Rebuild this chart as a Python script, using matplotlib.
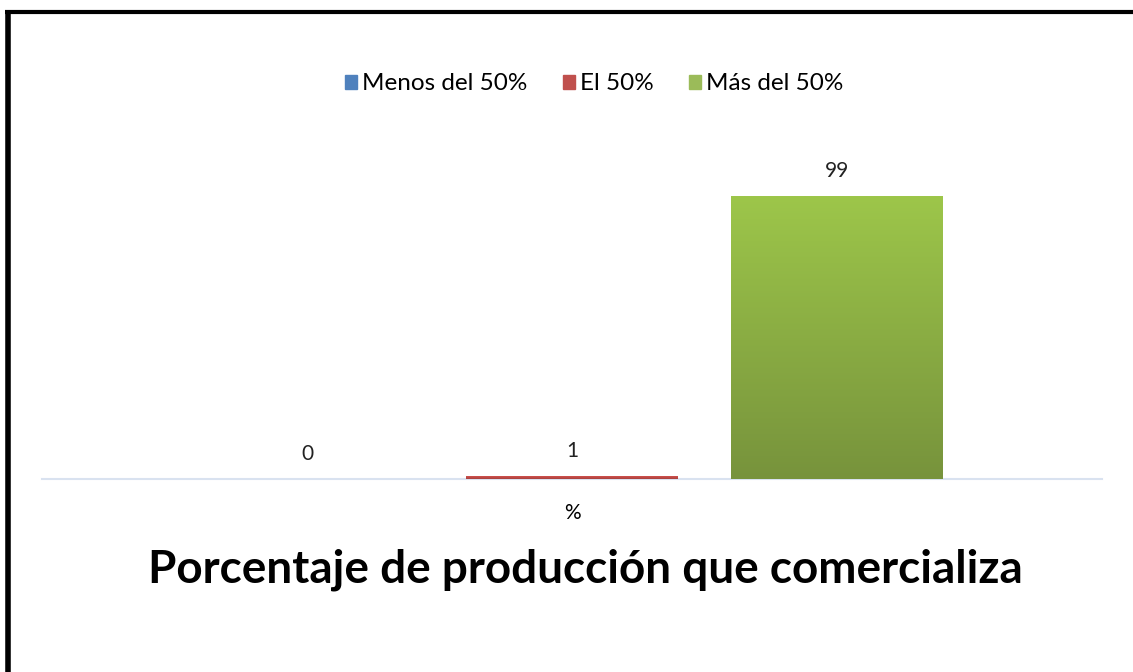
import matplotlib
matplotlib.use("Agg")
import matplotlib.pyplot as plt
import numpy as np
from matplotlib.lines import Line2D
from matplotlib.patches import Rectangle
from matplotlib.colors import LinearSegmentedColormap

series = ["Menos del 50%", "El 50%", "Más del 50%"]
values = [0, 1, 99]
category = ["%"]
title = "Porcentaje de producción que comercializa"

colors = ["#4F81BD", "#C0504D", "#9BBB59"]
grad_top = ["#5A8FD0", "#D0514D", "#9DC64A"]
grad_bot = ["#3D6DA8", "#A8403D", "#77933C"]

plt.rcParams['font.family'] = ['Lato', 'DejaVu Sans']

W, H = 1133, 672
fig = plt.figure(figsize=(W/100, H/100), dpi=100)

x0, x1 = 42, 1102
ybase, ytop = 479, 150
ax = fig.add_axes([x0/W, 1 - ybase/H, (x1-x0)/W, (ybase-ytop)/H])
ymax = 99 * (ybase - ytop) / (ybase - 196)

bw = 212 / (x1 - x0)
step = 265 / (x1 - x0)
offsets = [-step, 0, step]
for i, (s, v) in enumerate(zip(series, values)):
    b = ax.bar(offsets[i], v, width=bw, color=colors[i], label=s, zorder=2)
    rect = b[0]
    if v > 0:
        grad = np.linspace(0, 1, 256).reshape(-1, 1)
        cm = LinearSegmentedColormap.from_list("g", [grad_bot[i], grad_top[i]])
        im = ax.imshow(grad, cmap=cm, aspect='auto', origin='lower',
                       extent=[rect.get_x(), rect.get_x() + rect.get_width(), 0, v],
                       zorder=3)
        im.set_clip_path(rect)
    ax.text(offsets[i], v + ymax*0.045, str(v), ha='center', va='bottom',
            fontsize=15, color='#222222')

ax.set_xlim(-0.5, 0.5)
ax.set_ylim(0, ymax)
for sp in ['top', 'right', 'left']:
    ax.spines[sp].set_visible(False)
ax.spines['bottom'].set_color('#D9E2F0')
ax.spines['bottom'].set_linewidth(1.5)
ax.set_yticks([])
ax.set_xticks([0])
ax.set_xticklabels(category, fontsize=15)
ax.tick_params(axis='x', length=0, pad=17)

fig.legend(handles=[Rectangle((0, 0), 1, 1, color=c) for c in colors],
           labels=series, loc='center', bbox_to_anchor=(594/W, 1 - 84/H),
           ncol=3, frameon=False, fontsize=17.5, handlelength=0.5,
           handleheight=0.5, handletextpad=0.2, columnspacing=1.45)

fig.text(585/W, 1 - 570/H, title, ha='center', va='center',
         fontsize=33, fontweight='bold', color='black')

fig.add_artist(Line2D([7.5/W, 7.5/W], [0, 1 - 12/H], transform=fig.transFigure,
                      color='black', lw=4, solid_capstyle='butt'))
fig.add_artist(Line2D([5.5/W, 1], [1 - 12/H, 1 - 12/H], transform=fig.transFigure,
                      color='black', lw=3, solid_capstyle='butt'))

fig.savefig("out.png", dpi=100)
